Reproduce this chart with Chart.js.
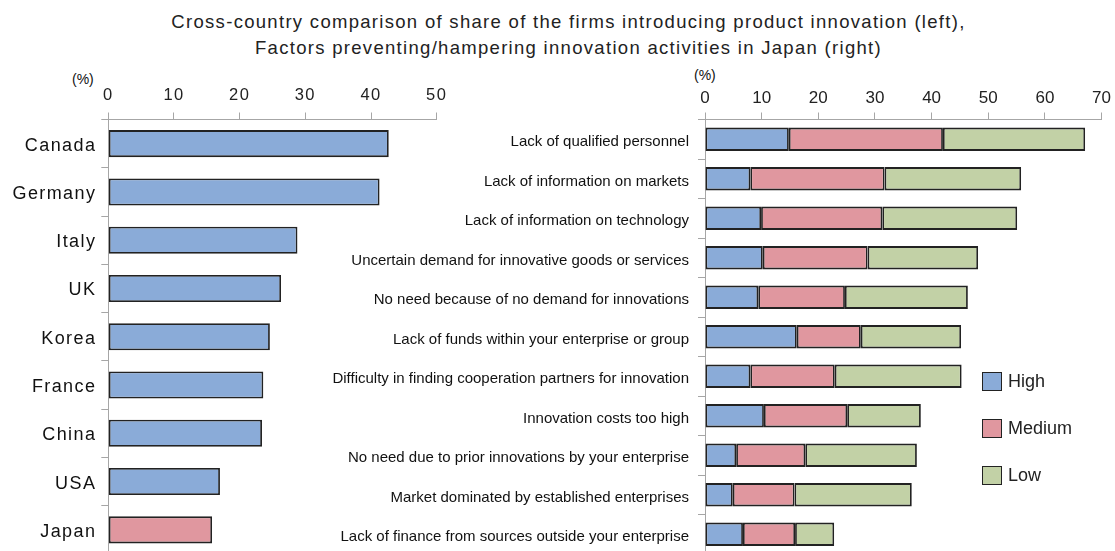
<!DOCTYPE html>
<html><head><meta charset="utf-8">
<script src="https://cdn.jsdelivr.net/npm/chart.js@4"></script>
<style>
html,body{margin:0;padding:0;width:1115px;height:551px;overflow:hidden;background:#fff;}
#title{position:absolute;left:0;width:1137px;top:9px;text-align:center;font:18.5px "Liberation Sans",Arial,sans-serif;letter-spacing:1.3px;color:#222;line-height:26px;}
.unit{position:absolute;font:14px "Liberation Sans",Arial,sans-serif;color:#111;}
#leftWrap{position:absolute;left:0;top:0;width:470px;height:560px;}
#rightWrap{position:absolute;left:300px;top:0;width:815px;height:560px;}
#legend{position:absolute;left:982px;top:371px;font:18px "Liberation Sans",Arial,sans-serif;color:#222;}
.li{height:20px;margin-bottom:27px;display:flex;align-items:center;}
.sw{width:18px;height:17px;border:1.8px solid #222;margin-right:6px;}
</style></head>
<body>
<div id="title">Cross-country comparison of share of the firms introducing product innovation (left),<br>Factors preventing/hampering innovation activities in Japan (right)</div>
<div class="unit" style="left:72px;top:71px;">(%)</div>
<div class="unit" style="left:694px;top:67px;">(%)</div>
<div id="leftWrap"><canvas id="left" width="470" height="560"></canvas></div>
<div id="rightWrap"><canvas id="right" width="815" height="560"></canvas></div>
<div id="legend"></div>
<script>
const countries = ['Canada','Germany','Italy','UK','Korea','France','China','USA','Japan'];
const countryShare = [42.7,41.3,28.8,26.3,24.6,23.6,23.4,17.0,15.8];
const leftTicks = [0,10,20,30,40,50];

const factors = [
  'Lack of qualified personnel',
  'Lack of information on markets',
  'Lack of information on technology',
  'Uncertain demand for innovative goods or services',
  'No need because of no demand for innovations',
  'Lack of funds within your enterprise or group',
  'Difficulty in finding cooperation partners for innovation',
  'Innovation costs too high',
  'No need due to prior innovations by your enterprise',
  'Market dominated by established enterprises',
  'Lack of finance from sources outside your enterprise'
];
const highShare   = [14.8,8.0,9.9,10.2,9.4,16.2,8.0,10.4,5.5,4.9,6.7];
const mediumShare = [27.2,23.7,21.4,18.5,15.3,11.3,14.9,14.7,12.2,10.9,9.2];
const lowShare    = [25.1,24.1,23.8,19.5,21.7,17.7,22.4,13.0,19.7,20.7,6.9];
const rightTicks = [0,10,20,30,40,50,60,70];
const seriesNames = ['High','Medium','Low'];

const BLUE='#8aabd8', PINK='#e0979f', GREEN='#c2d1a6', EDGE='#222', AXIS='#a6a6a6';
const FONT='"Liberation Sans", Arial, sans-serif';

function spacing(px){
  const set=(chart)=>{ try{ chart.ctx.letterSpacing=px; }catch(e){} };
  return {id:'spacing', beforeLayout:set, beforeDraw:set};
}

function xScale(ticks, fsize, pad){
  return {
    type:'linear', position:'top', min:ticks[0], max:ticks[ticks.length-1],
    afterBuildTicks:(s)=>{s.ticks = ticks.map(v=>({value:v}));},
    ticks:{font:{family:FONT,size:fsize},color:'#222',padding:pad,maxRotation:0},
    grid:{drawOnChartArea:false,drawTicks:true,tickLength:7,color:AXIS},
    border:{color:AXIS,width:1},
    afterFit:(s)=>{s.height=119.5;}
  };
}
function yScale(width, fontSpec, pad, off){
  return {
    type:'category',
    ticks:{font:fontSpec,color:'#111',padding:pad,autoSkip:false,labelOffset:off},
    grid:{drawOnChartArea:false,drawTicks:true,tickLength:7,color:AXIS,offset:true},
    border:{color:AXIS,width:1},
    afterFit:(s)=>{s.width=width; s.paddingTop=0; s.paddingBottom=0;}
  };
}

new Chart(document.getElementById('left'),{
  type:'bar',
  data:{labels:countries,datasets:[{
    data:countryShare,
    backgroundColor:countries.map(c=>c==='Japan'?PINK:BLUE),
    borderColor:EDGE,borderWidth:1.8,borderSkipped:false,
    barPercentage:0.56,categoryPercentage:1
  }]},
  options:{
    indexAxis:'y',responsive:false,animation:false,
    layout:{padding:{top:0,left:0,right:33.3,bottom:6}},
    plugins:{legend:{display:false},tooltip:{enabled:false}},
    scales:{x:xScale(leftTicks,16.5,7),y:yScale(108.3,{family:FONT,size:18},5,2)}
  },
  plugins:[spacing('1.4px')]
});

new Chart(document.getElementById('right'),{
  type:'bar',
  data:{labels:factors,datasets:[
    {label:seriesNames[0],data:highShare,backgroundColor:BLUE},
    {label:seriesNames[1],data:mediumShare,backgroundColor:PINK},
    {label:seriesNames[2],data:lowShare,backgroundColor:GREEN}
  ].map(d=>Object.assign(d,{borderColor:EDGE,borderWidth:1.8,borderSkipped:false,barPercentage:0.59,categoryPercentage:1}))},
  options:{
    indexAxis:'y',responsive:false,animation:false,
    layout:{padding:{top:0,left:0,right:12.4,bottom:6}},
    plugins:{legend:{display:false},tooltip:{enabled:false}},
    scales:{
      x:Object.assign(xScale(rightTicks,17,4),{stacked:true}),
      y:Object.assign(yScale(405,{family:FONT,size:15},9,3),{stacked:true})
    }
  }
});

const lg=document.getElementById('legend');
[BLUE,PINK,GREEN].forEach((c,i)=>{
  const d=document.createElement('div');d.className='li';
  d.innerHTML='<span class="sw" style="background:'+c+'"></span><span>'+seriesNames[i]+'</span>';
  lg.appendChild(d);
});
</script>
</body></html>
